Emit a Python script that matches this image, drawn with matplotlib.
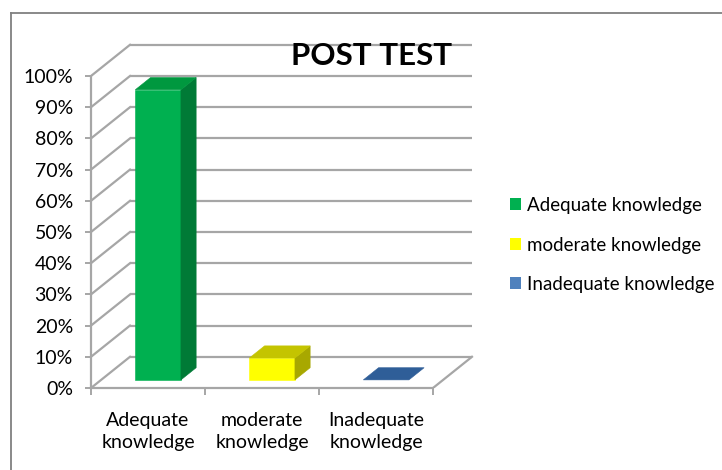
import matplotlib
matplotlib.use('Agg')
import matplotlib.pyplot as plt
from matplotlib.patches import Polygon, Patch
from matplotlib.lines import Line2D

# ---------------- data ----------------
categories = ['Adequate\nknowledge', 'moderate\nknowledge', 'Inadequate\nknowledge']
legend_labels = ['Adequate knowledge', 'moderate knowledge', 'Inadequate knowledge']
values = [93, 7, 0]
yticks = [0, 10, 20, 30, 40, 50, 60, 70, 80, 90, 100]
ytick_labels = [f'{v}%' for v in yticks]
title = 'POST TEST'

# ---------------- style ----------------
front_colors = ['#00B050', '#FFFF00', '#4F81BD']
top_colors = ['#00983F', '#C4C400', '#2F5E98']
side_colors = ['#007A36', '#A8A800', '#2A4F80']
grid_color = '#A6A6A6'
FONT = 'Lato'
plt.rcParams['font.family'] = [FONT, 'DejaVu Sans']

W, H = 722, 470
fig = plt.figure(figsize=(W / 100, H / 100), dpi=100)

px_per_cat = 114.0
px_per_val = 3.12
x0_px, y0_px = 91, 388
depth_dx = 0.342      # back-wall offset in category units
depth_dy = 10.0       # back-wall offset in value units
xmax, ymax = 3.42, 112
ax = fig.add_axes([x0_px / W, (H - y0_px) / H,
                   xmax * px_per_cat / W, ymax * px_per_val / H])
ax.set_xlim(0, xmax)
ax.set_ylim(0, ymax)
ax.patch.set_visible(False)

n = len(categories)

# back wall gridlines + side wall diagonals
for v in yticks:
    ax.plot([depth_dx, n + depth_dx], [v + depth_dy, v + depth_dy],
            color=grid_color, lw=1.6, zorder=1, solid_capstyle='butt')
    ax.plot([0, depth_dx], [v, v + depth_dy], color=grid_color, lw=1.6, zorder=1)
# floor right edge
ax.plot([n, n + depth_dx], [0, depth_dy], color=grid_color, lw=1.6, zorder=1)

# bars (3D look)
bar_w = 0.40
d0, d1 = 0.26, 0.65
for i, v in enumerate(values):
    c = i + 0.5
    xl = c - bar_w / 2 + d0 * depth_dx
    xr = c + bar_w / 2 + d0 * depth_dx
    yb = d0 * depth_dy
    ox = (d1 - d0) * depth_dx
    oy = (d1 - d0) * depth_dy
    yt = yb + v
    if v > 0:
        ax.add_patch(Polygon([(xl, yb), (xr, yb), (xr, yt), (xl, yt)], closed=True,
                             facecolor=front_colors[i], edgecolor=front_colors[i],
                             lw=0.4, zorder=3))
        ax.add_patch(Polygon([(xr, yb), (xr + ox, yb + oy), (xr + ox, yt + oy), (xr, yt)],
                             closed=True, facecolor=side_colors[i],
                             edgecolor=side_colors[i], lw=0.4, zorder=3))
    ax.add_patch(Polygon([(xl, yt), (xr, yt), (xr + ox, yt + oy), (xl + ox, yt + oy)],
                         closed=True, facecolor=top_colors[i],
                         edgecolor=top_colors[i], lw=0.4, zorder=3))

# axes styling
for s in ['top', 'right']:
    ax.spines[s].set_visible(False)
ax.spines['left'].set_bounds(0, 100)
ax.spines['bottom'].set_bounds(0, n)
for s in ['left', 'bottom']:
    ax.spines[s].set_color(grid_color)
    ax.spines[s].set_linewidth(1.6)
    ax.spines[s].set_zorder(2)

ax.set_yticks(yticks)
ax.set_yticklabels(ytick_labels)
ax.tick_params(axis='y', length=4, width=1.4, color=grid_color, pad=9,
               labelsize=14, labelcolor='black')
ax.set_xticks(list(range(n + 1)))
ax.set_xticklabels([''] * (n + 1))
ax.tick_params(axis='x', which='major', length=5, width=1.4, color=grid_color)
ax.set_xticks([i + 0.5 for i in range(n)], minor=True)
ax.set_xticklabels(categories, minor=True, linespacing=1.42)
ax.tick_params(axis='x', which='minor', length=0, pad=17, labelsize=14,
               labelcolor='black')

# title
fig.text(372 / W, 1 - 56 / H, title, ha='center', va='center',
         fontsize=22.5, fontweight='bold', family=FONT)

# legend
handles = [Patch(facecolor=front_colors[i], edgecolor='none') for i in range(n)]
fig.legend(handles, legend_labels, loc='center left',
           bbox_to_anchor=(510 / W, 1 - 245 / H), frameon=False,
           fontsize=13.5, handlelength=0.6, handleheight=0.6,
           handletextpad=0.3, labelspacing=1.2, borderpad=0, borderaxespad=0)

# outer frame (top and left visible)
fig.add_artist(Line2D([11 / W, 11 / W], [0, 1 - 13 / H], color='#808080', lw=1.3))
fig.add_artist(Line2D([11 / W, 1], [1 - 13 / H, 1 - 13 / H], color='#808080', lw=1.3))

fig.savefig('out.png', dpi=100)
